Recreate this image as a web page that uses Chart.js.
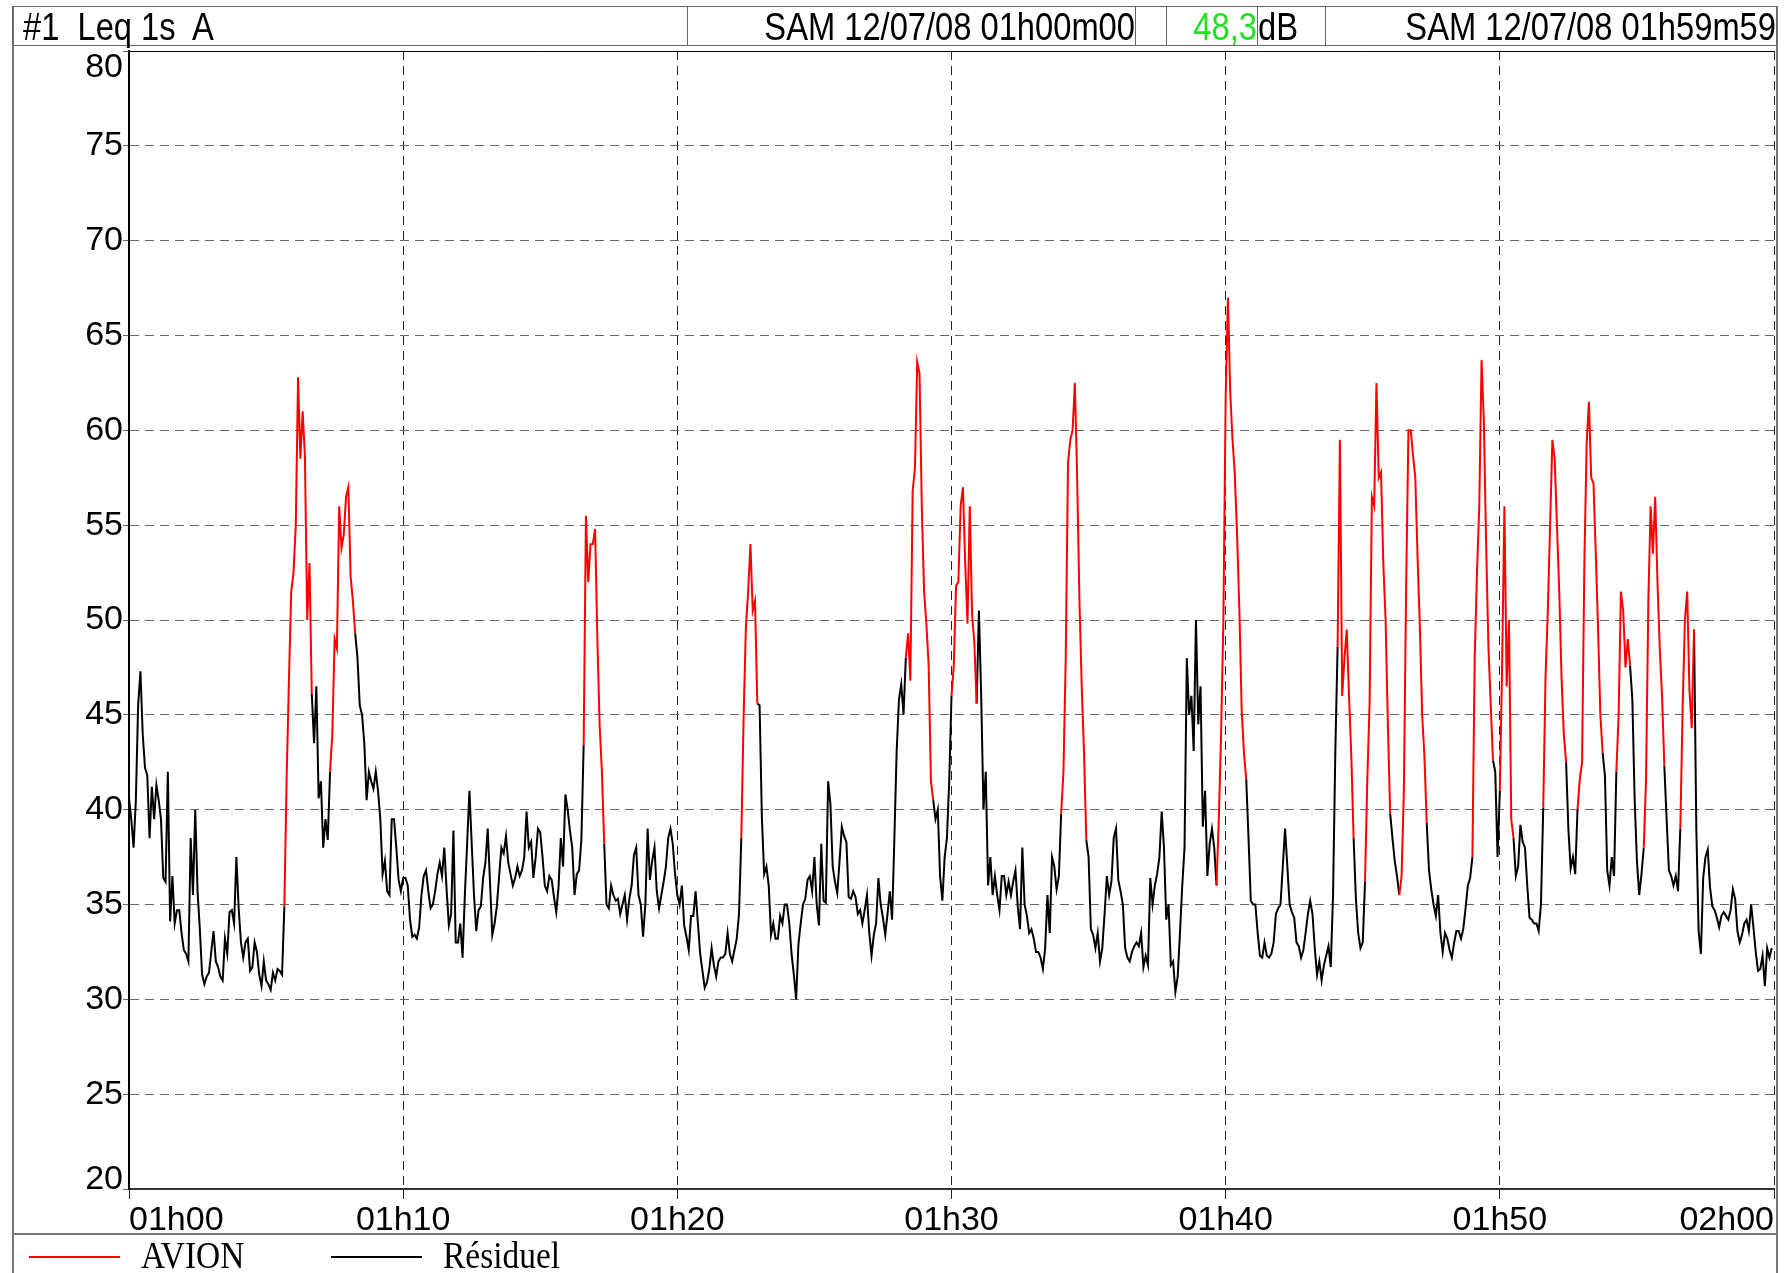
<!DOCTYPE html>
<html>
<head>
<meta charset="utf-8">
<script src="https://cdn.jsdelivr.net/npm/chart.js@4.4.1/dist/chart.umd.min.js"></script>
<style>
	body { margin: 0; background: #fff; }
	#page { position: relative; width: 1792px; height: 1273px; overflow: hidden; background: #fff; }
	#page canvas { position: absolute; left: 0; top: 0; }
	.frame { position: absolute; border: 0 solid #777; box-sizing: border-box; }
	.cell {
		position: absolute; top: 6px; height: 40px; box-sizing: border-box;
		border: 1px solid #666; font-family: "Liberation Sans", Arial, sans-serif;
		font-size: 38px; line-height: 40px; white-space: pre; color: #000; overflow: visible;
	}
	.cell span { display: inline-block; transform: scaleX(0.86); }
	.cell.left span { transform-origin: 0 50%; }
	.cell.right { text-align: right; }
	.cell.right span { transform-origin: 100% 50%; }
	.legend-item { position: absolute; top: 1236px; height: 37px; }
	.legend-line { position: absolute; top: 20px; left: 0; width: 91px; height: 2px; }
	.legend-text {
		position: absolute; left: 112px; top: 0; font-family: "Liberation Serif", "DejaVu Serif", serif;
		font-size: 38px; line-height: 38px; white-space: nowrap; transform: scaleX(0.88); transform-origin: 0 0;
	}
</style>
</head>
<body>
<div id="page">
	<canvas id="leq" width="1792" height="1273"></canvas>
	<div class="frame" style="left:12px;top:6px;width:1766px;height:1300px;border-width:1px 2px 0 2px;"></div>
	<div class="frame" style="left:12px;top:1233px;width:1766px;height:1px;border-top-width:2px;"></div>
	<div class="cell left" style="left:12px;width:676px;padding-left:10px;"><span>#1  Leq 1s  A</span></div>
	<div class="cell right" style="left:687px;width:449px;"><span>SAM 12/07/08 01h00m00</span></div>
	<div class="cell" style="left:1135px;width:32px;"></div>
	<div class="cell right" style="left:1166px;width:92px;color:#22e022;"><span>48,3</span></div>
	<div class="cell left" style="left:1257px;width:69px;"><span>dB</span></div>
	<div class="cell right" style="left:1325px;width:452px;"><span>SAM 12/07/08 01h59m59</span></div>
	<div id="legend"></div>
</div>
<script>
// Leq 1s (A), one value every 5 s from 01h00m00 (one row = one minute)
const stepSeconds = 5;
const levels = [
	40.6, 39.5, 38.0, 40.5, 45.5, 47.3, 44.0, 42.2, 41.8, 38.5, 41.2, 39.5,
	41.3, 40.5, 39.5, 36.4, 36.2, 42.0, 34.1, 36.5, 34.0, 34.7, 34.7, 33.5,
	32.6, 32.4, 32.0, 38.5, 35.5, 40.0, 35.7, 33.7, 31.3, 30.8, 31.2, 31.4,
	32.5, 33.6, 32.0, 31.7, 31.2, 31.0, 33.2, 32.4, 34.6, 34.7, 34.0, 37.5,
	34.8, 33.0, 32.2, 33.0, 33.2, 31.5, 31.7, 33.0, 32.5, 31.3, 30.7, 32.0,
	31.0, 30.8, 30.5, 31.4, 31.0, 31.6, 31.5, 31.3, 34.9, 41.7, 46.8, 51.5,
	52.5, 55.0, 62.8, 58.5, 61.0, 58.6, 50.0, 53.0, 46.1, 43.5, 46.5, 40.6,
	41.5, 38.0, 39.5, 38.4, 42.0, 44.0, 49.0, 48.5, 56.0, 53.8, 54.5, 56.5,
	57.0, 52.3, 51.0, 49.3, 48.0, 45.5, 45.0, 43.5, 40.5, 42.0, 41.5, 41.1,
	42.0, 41.0, 39.5, 36.6, 37.3, 35.7, 35.5, 39.5, 39.5, 38.0, 36.3, 35.7,
	36.4, 36.4, 36.0, 34.2, 33.3, 33.4, 33.2, 33.8, 35.5, 36.5, 36.8, 35.7,
	34.8, 35.0, 35.7, 36.6, 37.2, 36.5, 38.0, 35.8, 33.9, 34.5, 38.9, 33.0,
	33.0, 34.0, 32.2, 35.5, 38.2, 41.0, 38.2, 35.5, 33.6, 34.7, 34.9, 36.4,
	37.2, 39.0, 36.2, 33.4, 34.0, 34.9, 36.5, 38.0, 37.7, 38.6, 37.2, 36.6,
	36.0, 36.4, 37.0, 36.5, 36.8, 37.5, 39.9, 38.0, 38.3, 36.4, 37.5, 39.0,
	38.8, 37.5, 36.0, 35.7, 36.5, 36.3, 35.4, 34.6, 35.9, 38.5, 37.0, 40.8,
	40.0, 38.9, 38.0, 35.5, 36.6, 36.8, 38.4, 43.4, 55.5, 52.0, 54.0, 54.0,
	54.8, 49.0, 44.4, 42.0, 38.2, 35.0, 34.8, 36.0, 35.5, 35.2, 35.3, 34.5,
	35.0, 35.5, 34.2, 35.3, 36.0, 37.6, 38.0, 35.5, 35.0, 33.3, 35.0, 39.0,
	36.3, 37.3, 38.0, 35.7, 34.8, 35.5, 36.2, 37.0, 38.5, 39.0, 38.2, 36.6,
	35.5, 35.0, 36.0, 33.9, 33.3, 32.6, 34.4, 34.4, 35.7, 34.0, 32.4, 31.5,
	30.6, 30.9, 31.6, 32.7, 31.8, 31.2, 32.0, 32.2, 32.2, 32.4, 33.5, 32.4,
	32.0, 32.6, 33.2, 34.5, 38.5, 44.8, 49.6, 51.5, 54.0, 50.5, 51.0, 45.6,
	45.5, 39.6, 36.6, 37.0, 36.0, 33.4, 34.0, 33.2, 33.2, 34.4, 34.0, 35.0,
	35.0, 34.0, 32.4, 31.3, 30.0, 32.9, 34.0, 35.0, 35.3, 36.3, 36.5, 35.7,
	37.5, 35.0, 33.9, 38.2, 35.2, 35.1, 41.5, 40.3, 37.0, 36.2, 35.6, 37.3,
	39.1, 38.6, 38.3, 35.4, 35.3, 35.7, 35.4, 34.5, 34.7, 34.0, 34.7, 35.5,
	33.5, 32.3, 33.4, 34.0, 36.4, 35.0, 34.3, 33.4, 34.5, 35.7, 34.2, 38.5,
	43.1, 45.8, 46.6, 45.0, 48.0, 49.3, 46.8, 56.8, 58.0, 63.6, 63.0, 56.0,
	51.5, 49.8, 47.6, 41.5, 40.5, 39.5, 40.0, 36.5, 35.2, 37.5, 38.5, 41.5,
	46.0, 47.6, 51.8, 52.0, 56.0, 57.0, 53.0, 49.8, 56.0, 50.3, 48.8, 45.6,
	50.5, 46.0, 40.0, 42.0, 36.0, 37.5, 35.5, 36.5, 35.5, 34.7, 36.5, 36.5,
	35.5, 36.2, 35.5, 36.2, 36.8, 34.9, 33.7, 38.0, 35.0, 34.4, 33.5, 33.7,
	33.2, 32.5, 32.5, 32.2, 31.6, 32.7, 35.5, 33.5, 37.5, 37.0, 35.8, 36.5,
	39.8, 42.0, 48.0, 58.3, 59.5, 60.0, 62.5, 57.5, 51.0, 46.5, 43.0, 38.4,
	37.5, 33.7, 33.4, 32.7, 33.5, 32.0, 32.7, 34.5, 36.5, 35.5, 36.2, 38.5,
	39.0, 36.3, 35.7, 35.0, 32.7, 32.2, 32.0, 32.5, 32.8, 33.0, 32.8, 33.5,
	31.7, 32.3, 31.8, 36.4, 35.0, 36.0, 36.6, 37.5, 39.9, 38.0, 34.2, 35.0,
	31.8, 32.0, 30.4, 31.2, 33.5, 36.0, 38.0, 48.0, 45.0, 46.0, 43.1, 50.0,
	44.5, 46.5, 39.1, 41.0, 36.5, 38.2, 39.0, 38.0, 36.0, 39.5, 44.0, 50.0,
	61.7, 67.0, 62.0, 59.5, 57.7, 54.5, 50.5, 45.3, 43.0, 41.6, 38.5, 35.2,
	35.0, 35.0, 33.5, 32.3, 32.2, 33.0, 32.3, 32.2, 32.4, 33.0, 34.5, 34.8,
	35.0, 37.0, 39.0, 37.0, 35.0, 34.6, 34.3, 33.0, 32.8, 32.2, 32.6, 33.5,
	34.5, 35.2, 34.5, 32.7, 31.3, 32.0, 31.0, 31.8, 32.3, 32.8, 31.7, 35.5,
	43.1, 48.6, 59.5, 46.0, 48.0, 49.5, 46.0, 42.8, 38.5, 35.3, 33.5, 32.7,
	33.0, 36.2, 41.6, 45.6, 56.5, 56.0, 62.5, 57.5, 57.8, 53.0, 50.0, 44.5,
	39.8, 38.5, 37.3, 36.5, 35.5, 36.5, 41.0, 51.8, 60.0, 60.0, 58.7, 57.5,
	53.3, 49.6, 45.0, 42.8, 39.3, 36.8, 35.8, 35.0, 34.4, 35.5, 33.5, 32.5,
	33.5, 33.2, 32.6, 32.2, 33.0, 33.6, 33.6, 33.2, 33.7, 34.8, 36.0, 36.4,
	37.5, 48.0, 52.5, 56.0, 63.7, 60.5, 54.0, 48.6, 45.6, 42.6, 42.0, 37.5,
	41.0, 47.6, 56.0, 46.5, 50.0, 39.5, 38.5, 36.5, 37.0, 39.2, 38.3, 38.0,
	36.0, 34.3, 34.2, 34.0, 34.0, 33.6, 35.0, 40.1, 47.0, 50.5, 55.0, 59.5,
	58.5, 55.0, 51.5, 47.0, 44.0, 42.5, 39.0, 36.9, 37.5, 36.6, 40.0, 41.6,
	42.5, 53.0, 59.3, 61.5, 57.5, 57.2, 53.5, 49.5, 45.0, 43.0, 41.8, 36.8,
	36.0, 37.5, 36.5, 42.0, 45.0, 51.5, 50.5, 47.5, 49.0, 47.6, 45.8, 40.6,
	37.3, 35.5, 36.6, 38.0, 41.6, 51.0, 56.0, 53.5, 56.5, 52.0, 48.5, 46.0,
	42.3, 39.5, 36.8, 36.5, 36.0, 36.5, 35.7, 39.0, 45.3, 50.0, 51.5, 46.3,
	44.3, 49.5, 39.0, 33.6, 32.4, 36.4, 37.5, 37.9, 35.9, 34.9, 34.7, 34.3,
	33.8, 34.4, 34.6, 34.4, 34.2, 34.7, 35.8, 35.3, 33.6, 33.0, 33.4, 34.0,
	34.2, 33.6, 35.0, 33.8, 32.5, 31.5, 31.6, 32.3, 30.7, 32.7, 32.2, 32.7
];

// aircraft events [start, end] in seconds after 01h00m00
const avionEvents = [
	[340, 400], [440, 495], [995, 1040], [1340, 1375], [1700, 1760], [1800, 1855],
	[2040, 2095], [2380, 2445], [2645, 2680], [2705, 2760], [2780, 2840], [2940, 2985],
	[3000, 3030], [3095, 3145], [3170, 3225], [3255, 3285], [3315, 3360], [3395, 3425]
];

const seriesNames = ["AVION", "Résiduel"];
const seriesColors = ["#ff0000", "#000000"];
const xTickLabels = ["01h00", "01h10", "01h20", "01h30", "01h40", "01h50", "02h00"];
const yTicks = [20, 80, 5];

const tickFont = '"Liberation Sans", Arial, sans-serif';

const onEdge = t => avionEvents.some(([a, b]) => t >= a && t <= b);
const inside = t => avionEvents.some(([a, b]) => t > a && t < b);

const avionPoints = levels.map((v, i) => {
	const t = i * stepSeconds;
	return { x: t, y: onEdge(t) ? v : null };
});
const residuelPoints = levels.map((v, i) => {
	const t = i * stepSeconds;
	return { x: t, y: inside(t) ? null : v };
});

const plotFrame = {
	id: "plotFrame",
	afterDraw(chart) {
		const { ctx, chartArea } = chart;
		ctx.save();
		ctx.strokeStyle = "#000";
		ctx.lineWidth = 1;
		ctx.beginPath();
		ctx.moveTo(chartArea.left, chartArea.top + 0.5);
		ctx.lineTo(chartArea.right, chartArea.top + 0.5);
		ctx.stroke();
		ctx.restore();
	},
};

const config = {
	type: "line",
	plugins: [plotFrame],
	data: {
		datasets: [
			{
				label: seriesNames[0],
				data: avionPoints,
				borderColor: seriesColors[0],
				borderWidth: 2,
				pointRadius: 0,
				spanGaps: false,
			},
			{
				label: seriesNames[1],
				data: residuelPoints,
				borderColor: seriesColors[1],
				borderWidth: 2,
				pointRadius: 0,
				spanGaps: false,
			},
		],
	},
	options: {
		responsive: false,
		animation: false,
		devicePixelRatio: 1,
		layout: { padding: { top: 51, right: 18, bottom: 0, left: 0 } },
		plugins: {
			legend: { display: false },
			tooltip: { enabled: false },
		},
		scales: {
			x: {
				type: "linear",
				min: 0,
				max: levels.length * stepSeconds,
				afterFit: scale => { scale.height = 84; },
				afterBuildTicks: scale => {
					scale.ticks = xTickLabels.map((_, i) => ({ value: i * 600 }));
				},
				ticks: {
					autoSkip: false,
					maxRotation: 0,
					align: "inner",
					padding: 1,
					color: "#000",
					font: { family: tickFont, size: 34 },
					callback: (value, i) => xTickLabels[i],
				},
				grid: { color: "#222", lineWidth: 1, tickLength: 10, tickColor: "#222" },
				border: { display: true, color: "#333", width: 2, dash: [9, 6] },
			},
			y: {
				min: yTicks[0],
				max: yTicks[1],
				afterFit: scale => { scale.width = 129; },
				ticks: {
					stepSize: yTicks[2],
					padding: 0,
					color: "#000",
					// top and bottom labels sit inside the plot like on the recorder print-out
					font: ctx => ({
						family: tickFont,
						size: 34,
						lineHeight: ctx.tick && ctx.tick.value === yTicks[0] ? 0.55 : 1.0,
					}),
					callback: v => (v === yTicks[1] ? ["", String(v)] : v === yTicks[0] ? [String(v), ""] : String(v)),
				},
				grid: { color: "#666", lineWidth: 1, tickLength: 6, tickColor: "#666" },
				border: { display: true, color: "#000", width: 2, dash: [9, 6] },
			},
		},
	},
};

const chart = new Chart(document.getElementById("leq"), config);

// legend built from the datasets
const legend = document.getElementById("legend");
const legendLeft = [29, 331];
chart.data.datasets.forEach((ds, i) => {
	const item = document.createElement("div");
	item.className = "legend-item";
	item.style.left = legendLeft[i] + "px";
	item.innerHTML = `<div class="legend-line" style="background:${ds.borderColor}"></div><div class="legend-text">${ds.label}</div>`;
	legend.appendChild(item);
});
</script>
</body>
</html>
